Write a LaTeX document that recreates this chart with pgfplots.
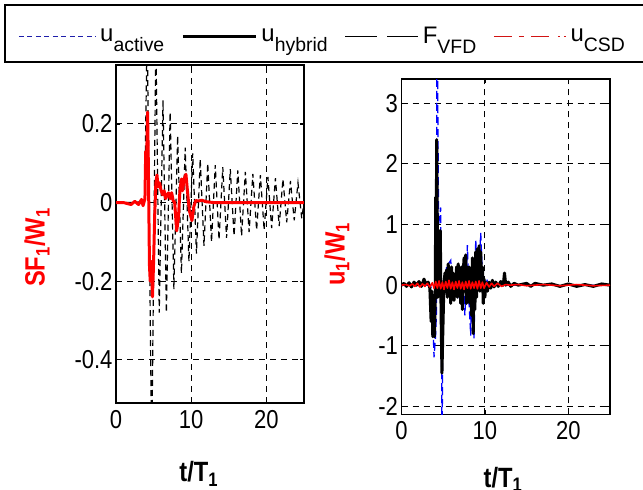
\documentclass[border=0pt]{standalone}
\usepackage{pgfplots}
\pgfplotsset{compat=1.18}
\usepackage{fontspec}
\setmainfont{Liberation Sans}
\newfontfamily\condf{Liberation Sans}[FakeStretch=0.85]
\definecolor{legblue}{RGB}{30,30,170}
\definecolor{legred}{RGB}{210,20,20}
\newcommand{\labfont}{\condf\bfseries\fontsize{28}{28}\selectfont}

\pgfplotsset{
  mystyle/.style={
    scale only axis,
    xmin=0, xmax=25,
    axis line style={line width=1.5bp},
    grid=major,
    major grid style={black, dash pattern=on 6bp off 5bp, line width=1bp},
    tick align=inside,
    major tick length=4bp,
    tick style={black, line width=1.2bp},
    xtick={0,10,20},
    xticklabels={0,10,20},
    ticklabel style={font=\condf\fontsize{26}{26}\selectfont},
    xticklabel style={yshift=-4bp},
  }
}

\begin{document}
\begin{tikzpicture}
\useasboundingbox (0bp,0bp) rectangle (643bp,-490bp);
\draw[line width=1.3bp] (5bp,-5bp) -- (680bp,-5bp) -- (680bp,-62bp) -- (5bp,-62bp) -- cycle;

% ---------------- left axis ----------------
\begin{axis}[mystyle,
  at={(116bp,-65bp)}, anchor=north west,
  width=188bp, height=338bp,
  ymin=-0.51, ymax=0.35,
  ytick={-0.4,-0.2,0,0.2},
  yticklabels={-0.4,-0.2,0,0.2},
  ylabel={\textcolor{red}{SF\textsubscript{1}/W\textsubscript{1}}},
  every axis y label/.style={at={(axis description cs:-0.42,0.46)}, rotate=90, anchor=center, font=\labfont},
  xlabel={t/T\textsubscript{1}},
  every axis x label/.style={at={(axis description cs:0.44,-0.172)}, anchor=north, inner sep=0pt, font=\labfont},
  legend columns=4,
  legend style={draw=none, fill=none, at={(axis description cs:-0.521,1.085)}, anchor=west,
     inner sep=0pt, font=\fontsize{24}{24}\selectfont,
     /tikz/every even column/.append style={column sep=15bp},
     /tikz/every odd column/.append style={column sep=2bp}},
]
\addlegendimage{legend image code/.code={\draw[legblue, line width=1bp, dash pattern=on 5bp off 3.5bp] (0bp,0bp) -- (77bp,0bp);}}
\addlegendentry{u\raisebox{-10bp}{\fontsize{19.5}{19.5}\selectfont active}}
\addlegendimage{legend image code/.code={\draw[black, line width=3.2bp] (0bp,0bp) -- (73bp,0bp);}}
\addlegendentry{u\raisebox{-10bp}{\fontsize{19.5}{19.5}\selectfont hybrid}}
\addlegendimage{legend image code/.code={\draw[black, line width=1.2bp, dash pattern=on 32bp off 10bp] (0bp,0bp) -- (73bp,0bp);}}
\addlegendentry{F\raisebox{-10bp}{\fontsize{19.5}{19.5}\selectfont VFD}}
\addlegendimage{legend image code/.code={\draw[legred, line width=1.3bp, dash pattern=on 18bp off 7bp on 5bp off 7bp on 18bp off 9bp on 2bp off 4bp] (0bp,0bp) -- (72bp,0bp);}}
\addlegendentry{u\raisebox{-10bp}{\fontsize{19.5}{19.5}\selectfont CSD}}

% F_VFD (black dashed)
\addplot[forget plot, black, line width=1.2bp, dash pattern=on 6bp off 4bp] coordinates {
(0,0) (2,0) (3.5,0.002) (3.8,0.0) (4.15,0.45) (4.75,-0.65) (5.3,0.42) (5.75,-0.28)
(6.25,0.26) (6.7,-0.28) (7.2,0.23) (7.7,-0.22) (8.2,0.17) (8.7,-0.18) (9.2,0.14)
(9.7,-0.15) (10.2,0.125) (10.7,-0.13) (11.2,0.11) (11.7,-0.11) (12.2,0.10) (12.7,-0.10)
(13.2,0.095) (13.7,-0.095) (14.2,0.09) (14.7,-0.09) (15.2,0.085) (15.7,-0.085)
(16.2,0.082) (16.7,-0.085) (17.2,0.078) (17.7,-0.075) (18.2,0.073) (18.7,-0.07)
(19.2,0.07) (19.7,-0.07) (20.2,0.065) (20.7,-0.065) (21.2,0.062) (21.7,-0.06)
(22.2,0.06) (22.7,-0.05) (23.2,0.055) (23.7,-0.045) (24.2,0.05) (24.7,-0.04) (25,0.0)
};
% SF (red thick)
\addplot[forget plot, red, line width=3bp, line join=round] coordinates {
(0,0) (1,0) (2,-0.005) (2.5,0.003) (3,-0.005) (3.4,0.008) (3.6,-0.008) (3.85,0.01)
(3.95,0.13) (4.05,0.08) (4.2,0.23) (4.3,0.1) (4.45,-0.16) (4.55,-0.2) (4.7,-0.15)
(4.85,-0.24) (5.0,-0.15) (5.15,-0.03) (5.3,0.05) (5.45,0.07) (5.6,0.04) (5.8,0.05)
(6.0,0.03) (6.2,0.02) (6.4,0.03) (6.6,0.01) (6.8,0.02) (7.0,0.025) (7.2,0.01)
(7.4,0.025) (7.6,0.005) (7.8,0.0) (8.07,-0.072) (8.3,-0.04) (8.5,0.03) (8.7,0.06)
(8.85,0.03) (9.05,0.06) (9.3,0.072) (9.5,0.03) (9.75,-0.02) (10.1,-0.046) (10.35,-0.01)
(10.6,0.005) (11.0,0.004) (11.4,0.006) (12,0.002) (13,0) (25,0)
};
\end{axis}

% ---------------- right axis ----------------
\begin{axis}[mystyle,
  at={(401.5bp,-79bp)}, anchor=north west,
  width=208.5bp, height=335.3bp,
  ymin=-2.13, ymax=3.4,
  ytick={-2,-1,0,1,2,3},
  yticklabels={-2,-1,0,1,2,3},
  ylabel={\textcolor{red}{u\textsubscript{1}/W\textsubscript{1}}},
  every axis y label/.style={at={(axis description cs:-0.31,0.478)}, rotate=90, anchor=center, font=\labfont},
  xlabel={t/T\textsubscript{1}},
  every axis x label/.style={at={(axis description cs:0.487,-0.156)}, anchor=north, inner sep=0pt, font=\labfont},
]
% u_active (blue dashed)
\addplot[blue, line width=1.3bp, dash pattern=on 8bp off 4bp] coordinates {
(0,0) (3.5,0.0) (3.7,-0.3) (3.9,-1.19) (4.1,-0.8) (4.2,-0.4) (4.25,5.0) (4.45,1.0)
(4.7,1.28) (4.8,-1.0) (4.86,-3.0) (4.95,-0.5) (5.1,-0.2) (5.4,0.3) (5.9,0.41)
(6.2,-0.2) (6.6,0.3) (7.0,-0.3) (7.4,0.35) (7.6,-0.5) (7.9,0.66) (8.1,-0.3)
(8.3,-0.83) (8.5,0.2) (8.7,-0.88) (8.9,0.75) (9.1,0.1) (9.3,0.3) (9.5,0.86)
(9.8,-0.2) (10.2,0.1) (10.6,-0.05) (11,0.03) (12,0) (25,0)
};
% u_hybrid (black thick)
\addplot[black, line width=3bp, line join=round] coordinates {
(0,0) (0.3,0.03) (0.6,-0.02) (0.9,0.04) (1.2,-0.03) (1.5,0.05) (1.8,0) (2.1,0.06)
(2.4,-0.02) (2.7,0.1) (2.9,0.02) (3.2,0.05) (3.4,-0.05) (3.55,-0.6) (3.65,-0.1)
(3.75,-0.85) (3.85,-0.7) (3.95,-0.85) (4.05,-0.2) (4.1,1.45) (4.15,0.5) (4.22,2.4)
(4.3,0.9) (4.35,-0.2) (4.45,0.9) (4.55,0.0) (4.65,0.9) (4.75,-0.5) (4.85,-1.45)
(4.95,-0.8) (5.05,-0.2) (5.2,0.2) (5.3,-0.1) (5.4,0.25) (5.5,-0.2) (5.6,0.35)
(5.7,-0.05) (5.8,0.2) (5.9,-0.3) (6.0,0.3) (6.1,-0.1) (6.2,0.2) (6.3,-0.25)
(6.4,0.15) (6.5,-0.15) (6.6,0.3) (6.7,-0.2) (6.8,0.35) (6.9,-0.1) (7.0,0.25)
(7.1,-0.3) (7.2,0.3) (7.3,-0.4) (7.4,0.2) (7.5,0.45) (7.6,-0.1) (7.7,0.5)
(7.8,-0.3) (7.9,0.3) (8.0,-0.15) (8.1,0.3) (8.2,-0.3) (8.3,0.15) (8.4,-0.5)
(8.5,0.45) (8.6,-0.8) (8.7,0.3) (8.8,-0.4) (8.9,0.55) (9.0,-0.2) (9.1,0.6)
(9.2,0.0) (9.3,0.65) (9.4,-0.1) (9.5,0.55) (9.6,0.0) (9.7,0.3) (9.8,-0.3)
(9.9,0.1) (10.0,-0.2) (10.1,0.05) (10.3,-0.1) (10.5,0.05) (10.7,-0.05) (10.9,0.08)
(11.1,-0.03) (11.3,0.05) (11.6,-0.02) (11.9,0.06) (12.2,0.0) (12.35,0.2) (12.5,0.0)
(12.8,0.05) (13.1,-0.02) (13.5,0.03) (14,0) (15,0.03) (15.5,-0.02) (16,0.03) (17,0)
(18,0.02) (19,-0.02) (20,0.02) (21,-0.02) (22,0.01) (23,-0.02) (24,0.02) (25,0)
};
% u_CSD (red)
\addplot[red, line width=1.6bp, line join=round] coordinates {
(0,0) (0.5,0.01) (1,-0.01) (1.3,0.02) (1.6,-0.02) (1.9,0.03) (2.2,-0.03) (2.5,0.02)
(2.8,-0.02) (3.1,0.03) (3.4,-0.03) (3.7,0.04) (3.9,-0.05) (4.1,0.06) (4.3,-0.05)
(4.5,0.07) (4.7,-0.06) (4.9,0.05) (5.1,-0.07) (5.3,0.06) (5.5,-0.05) (5.7,0.08)
(5.9,-0.06) (6.1,0.05) (6.3,-0.07) (6.5,0.06) (6.7,-0.05) (6.9,0.07) (7.1,-0.06)
(7.3,0.05) (7.5,-0.07) (7.7,0.06) (7.9,-0.05) (8.1,0.07) (8.3,-0.06) (8.5,0.05)
(8.7,-0.05) (8.9,0.06) (9.1,-0.06) (9.3,0.07) (9.5,-0.05) (9.7,0.05) (9.9,-0.05)
(10.2,0.04) (10.5,-0.03) (10.8,0.03) (11.1,-0.02) (11.5,0.03) (12,-0.02) (12.5,0.01)
(13,0) (14,0.01) (15,-0.01) (17,0.01) (19,-0.01) (21,0.01) (23,-0.01) (25,0)
};
\end{axis}
\end{tikzpicture}
\end{document}
